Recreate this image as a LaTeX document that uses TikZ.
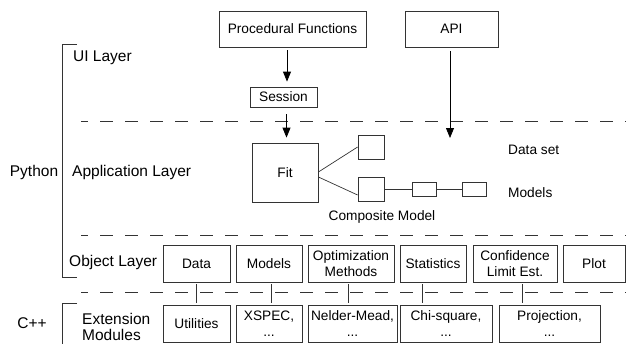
\documentclass[tikz,border=0pt]{standalone}
\usepackage{fontspec}
\setmainfont{Liberation Sans}
\usetikzlibrary{arrows.meta}
\definecolor{ln}{gray}{0.2}
\tikzset{
  box/.style={draw=ln, line width=0.8pt, inner sep=0pt, align=center, font=\fontsize{13.7}{15.5}\selectfont},
  lbl/.style={inner sep=0pt, font=\fontsize{15.5}{17}\selectfont},
  txt/.style={inner sep=0pt, font=\fontsize{13.7}{15.5}\selectfont},
  layerline/.style={draw=ln, line width=0.8pt, dash pattern=on 13pt off 12pt, dash phase=6pt},
  conn/.style={draw=ln, line width=0.7pt},
  arr/.style={draw=black, line width=0.8pt, -{Triangle[length=10pt,width=8pt]}},
  brk/.style={draw=ln, line width=0.8pt}
}
\begin{document}
\begin{tikzpicture}[x=1pt,y=-1pt]
\useasboundingbox (0,0) rectangle (626,343);
% top boxes
\node[box, minimum width=147pt, minimum height=36pt] (proc) at (292.5,29) {Procedural Functions};
\node[box, minimum width=93pt, minimum height=36pt] (api) at (451.5,29) {API};
\node[box, minimum width=67pt, minimum height=20pt] (sess) at (283.5,97) {Session};
% application layer
\node[box, minimum width=66pt, minimum height=59pt] (fit) at (285,172.5) {Fit};
\node[box, minimum width=26pt, minimum height=24pt] (ds) at (371,147) {};
\node[box, minimum width=26pt, minimum height=24pt] (m1) at (371,189) {};
\node[box, minimum width=24pt, minimum height=14pt] (m2) at (424,189) {};
\node[box, minimum width=24pt, minimum height=14pt] (m3) at (474,189) {};
\node[txt, anchor=west] (dstxt) at (508,150) {Data set};
\node[txt, anchor=west] (mtxt) at (508,193) {Models};
\node[txt] (comp) at (382,217) {Composite Model};
\coordinate (apiend) at (450,138);
% object layer
\node[box, minimum width=67pt, minimum height=37pt] (data) at (196.5,263.5) {Data};
\node[box, minimum width=66pt, minimum height=37pt] (models) at (269,263.5) {Models};
\node[box, minimum width=86pt, minimum height=37pt] (opt) at (351,263.5) {Optimization\\Methods};
\node[box, minimum width=66pt, minimum height=37pt] (stat) at (433,263.5) {Statistics};
\node[box, minimum width=84pt, minimum height=37pt] (conf) at (515,263.5) {Confidence\\Limit Est.};
\node[box, minimum width=62pt, minimum height=37pt] (plot) at (594,263.5) {Plot};
% extension modules
\node[box, minimum width=67pt, minimum height=37pt] (util) at (196.5,323.5) {Utilities};
\node[box, minimum width=66pt, minimum height=37pt] (xspec) at (269,323.5) {XSPEC,\\...};
\node[box, minimum width=89pt, minimum height=37pt] (nelder) at (352.5,323.5) {Nelder-Mead,\\...};
\node[box, minimum width=92pt, minimum height=37pt] (chi) at (446,323.5) {Chi-square,\\...};
\node[box, minimum width=101pt, minimum height=37pt] (proj) at (549.5,323.5) {Projection,\\...};
% labels
\node[lbl, anchor=west] (ui) at (73,58) {UI Layer};
\node[lbl, anchor=west] (app) at (72,172) {Application Layer};
\node[lbl] (py) at (34,172) {Python};
\node[lbl, anchor=west] (obj) at (69,262) {Object Layer};
\node[lbl] (cpp) at (32,323) {C++};
\node[lbl, anchor=west, align=left, font=\fontsize{15.5}{16.5}\selectfont] (ext) at (82,327) {Extension\\Modules};
% brackets
\draw[brk] (77,44) -- (62,44) -- (62,277) -- (77,277);
\draw[brk] (77,303) -- (62,303) -- (62,345);
% layer separators
\draw[layerline] (81,121) -- (626,121);
\draw[layerline] (81,235) -- (626,235);
\draw[layerline] (81,292) -- (626,292);
% arrows
\draw[arr, shorten <=3pt, shorten >=5pt] ([xshift=-5.5pt]proc.south) -- ([xshift=-5.5pt]proc.south |- sess.north);
\draw[arr, shorten <=7pt, shorten >=5pt] ([xshift=3pt]sess.south) -- ([xshift=3pt]sess.south |- fit.north);
\draw[arr, shorten <=4pt] ([xshift=-1.5pt]api.south) -- (apiend);
% application connectors
\draw[conn] ([yshift=0.5pt]fit.east) -- (ds.west);
\draw[conn] ([yshift=-4.5pt]fit.east) -- ([yshift=-6pt]m1.west);
\draw[conn] (m1.east) -- (m2.west);
\draw[conn] (m2.east) -- (m3.west);
% object-extension connectors
\draw[conn, shorten <=2pt, shorten >=2pt] (data.south) -- (data.south |- util.north);
\draw[conn, shorten <=2pt, shorten >=2pt] ([xshift=2pt]models.south) -- ([xshift=2pt]models.south |- xspec.north);
\draw[conn, shorten <=2pt, shorten >=2pt] ([xshift=-3pt]opt.south) -- ([xshift=-3pt]opt.south |- nelder.north);
\draw[conn, shorten <=2pt, shorten >=2pt] ([xshift=-11pt]stat.south) -- ([xshift=-11pt]stat.south |- chi.north);
\draw[conn, shorten <=2pt, shorten >=2pt] ([xshift=7pt]conf.south) -- ([xshift=7pt]conf.south |- proj.north);
\end{tikzpicture}
\end{document}
